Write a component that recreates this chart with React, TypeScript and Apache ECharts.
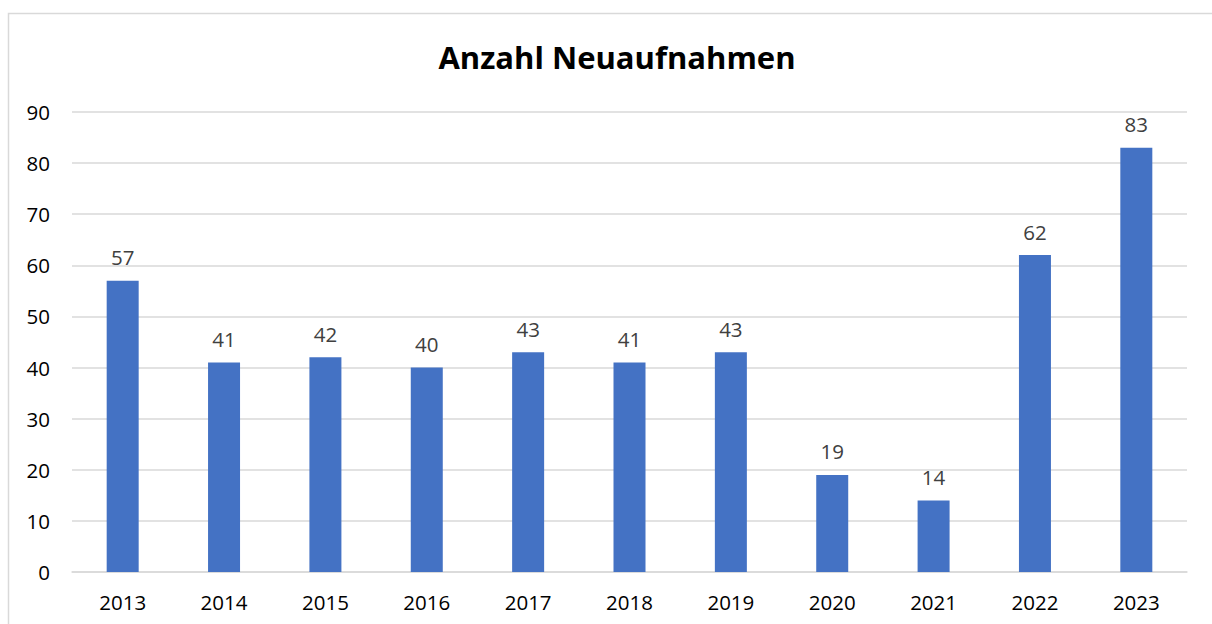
import React, { useEffect, useRef } from "react";
import * as echarts from "echarts";

const years = ["2013", "2014", "2015", "2016", "2017", "2018", "2019", "2020", "2021", "2022", "2023"];
const values = [57, 41, 42, 40, 43, 41, 43, 19, 14, 62, 83];
const titleText = "Anzahl Neuaufnahmen";

export default function App() {
  const ref = useRef<HTMLDivElement>(null);
  useEffect(() => {
    const chart = echarts.init(ref.current!, null, { renderer: "svg" });
    const font = "'Open Sans', 'Noto Sans', sans-serif";
    chart.setOption({
      animation: false,
      backgroundColor: "#ffffff",
      title: {
        text: titleText,
        left: 612,
        textAlign: "center",
        top: 36,
        textStyle: { fontFamily: font, fontSize: 31, fontWeight: "bold", color: "#000000" },
      },
      graphic: [
        {
          type: "rect",
          shape: { x: 8.5, y: 13.5, width: 1240, height: 700 },
          style: { fill: "none", stroke: "#d9d9d9", lineWidth: 1.5 },
          silent: true,
        },
      ],
      grid: { left: 72, right: 25, top: 112, bottom: 52 },
      xAxis: {
        type: "category",
        data: years,
        axisTick: { show: false },
        axisLine: { lineStyle: { color: "#d9d9d9", width: 1.5 } },
        axisLabel: { color: "#000000", fontFamily: font, fontSize: 20.5, margin: 19 },
      },
      yAxis: {
        type: "value",
        min: 0,
        max: 90,
        interval: 10,
        axisLine: { show: false },
        axisTick: { show: false },
        splitLine: { lineStyle: { color: "#d9d9d9", width: 1.5 } },
        axisLabel: { color: "#000000", fontFamily: font, fontSize: 20.5, margin: 22 },
      },
      series: [
        {
          type: "bar",
          data: values,
          barWidth: 32,
          itemStyle: { color: "#4472c4" },
          label: {
            show: true,
            position: "top",
            distance: 13,
            color: "#404040",
            fontFamily: font,
            fontSize: 20.5,
          },
        },
      ],
    });
    return () => chart.dispose();
  }, []);
  return (
    <div
      ref={ref}
      style={{ position: "fixed", left: 0, top: 0, width: 1212, height: 624 }}
    />
  );
}
